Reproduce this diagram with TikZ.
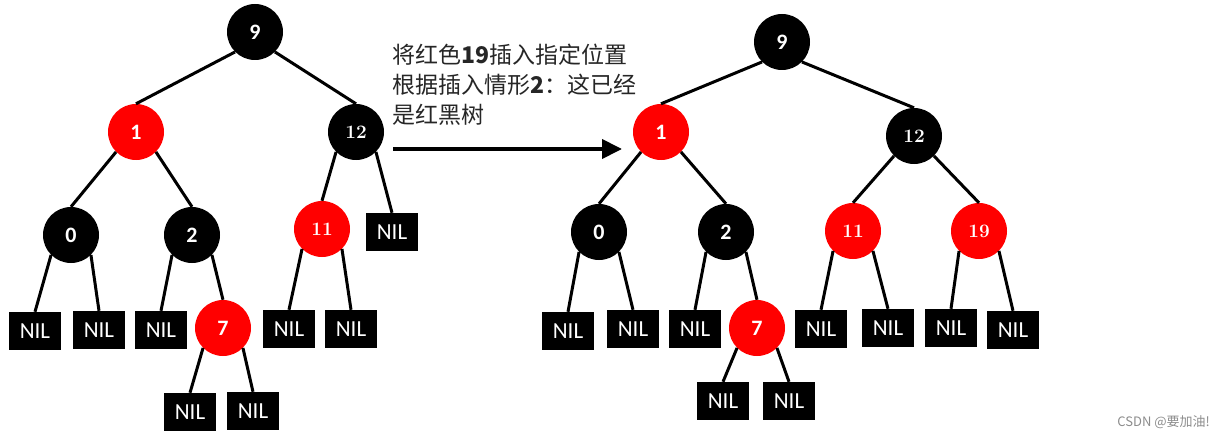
\documentclass[tikz,border=0pt]{standalone}
\usepackage{fontspec}
\setsansfont{Carlito}
\newfontfamily\cjkfont{Noto Sans CJK SC}
\usetikzlibrary{arrows.meta}

\begin{document}
\begin{tikzpicture}[x=1pt,y=-1pt,
	hei/.style={circle, fill=black, minimum size=56pt, inner sep=0pt, text=white, font=\sffamily\bfseries\fontsize{22}{22}\selectfont},
	hong/.style={hei, fill=red},
	shuzi/.style={font=\rmfamily\bfseries\fontsize{19}{19}\selectfont},
	nil/.style={fill=black, minimum width=52pt, minimum height=38pt, inner sep=0pt, text=white, font=\sffamily\fontsize{23}{23}\selectfont},
	bian/.style={line width=3pt}]
	
	\useasboundingbox (0,0) rectangle (1218,441);
	
	% Arbol antes
	\draw (255,32) node[hei] (a9) {9};
	\draw (136,132) node[hong] (a1) {1};
	\draw (356,132) node[hei, shuzi] (a12) {12};
	\draw (71,235) node[hei] (a0) {0};
	\draw (192,235) node[hei] (a2) {2};
	\draw (322,229) node[hong, shuzi] (a11) {11};
	\draw (392,232) node[nil] (anil12) {NIL};
	\draw (223,328) node[hong] (a7) {7};
	
	\draw (35,331) node[nil] (anil0l) {NIL};
	\draw (99,330) node[nil] (anil0r) {NIL};
	\draw (161,330) node[nil] (anil2) {NIL};
	\draw (289,329) node[nil] (anil11l) {NIL};
	\draw (351,329) node[nil] (anil11r) {NIL};
	\draw (190,412) node[nil] (anil7l) {NIL};
	\draw (253,411) node[nil] (anil7r) {NIL};
	
	% Lineas
	\draw [bian] (a9.south west) -- (a1.north);
	\draw [bian] (a9.south east) -- (a12.north);
	\draw [bian] (a1.south west) -- (a0.north);
	\draw [bian] (a1.south east) -- (a2.north);
	\draw [bian] (a12.south west) -- (a11.north);
	\draw [bian] (a12.south east) -- (anil12.north);
	\draw [bian] (a0.south west) -- (anil0l.north);
	\draw [bian] (a0.south east) -- (anil0r.north);
	\draw [bian] (a2.south west) -- (anil2.north);
	\draw [bian] (a2.south east) -- (a7.north);
	\draw [bian] (a11.south west) -- (anil11l.north);
	\draw [bian] (a11.south east) -- (anil11r.north);
	\draw [bian] (a7.south west) -- (anil7l.north);
	\draw [bian] (a7.south east) -- (anil7r.north);
	
	
	% Texto y flecha
	\draw (392,85) node[anchor=west, align=left, inner sep=0pt, text=black!85, font=\cjkfont\fontsize{23}{30}\selectfont] (shuoming)
	{
		将红色\textbf{19}插入指定位置 \\
		根据插入情形\textbf{2}：这已经 \\
		是红黑树
	};
	
	\coordinate (jt1) at (393,149);
	\coordinate (jt2) at (622,149);
	\draw [line width=4pt, -{Triangle[length=20pt, width=19pt]}] (jt1) -- (jt2);
	
	
	% Arbol despues
	\draw (782,42) node[hei] (b9) {9};
	\draw (661,132) node[hong] (b1) {1};
	\draw (914,136) node[hei, shuzi] (b12) {12};
	\draw (599,232) node[hei] (b0) {0};
	\draw (726,232) node[hei] (b2) {2};
	\draw (853,231) node[hong, shuzi] (b11) {11};
	\draw (979,231) node[hong, shuzi] (b19) {19};
	\draw (757,328) node[hong] (b7) {7};
	
	\draw (568,331) node[nil] (bnil0l) {NIL};
	\draw (633,329) node[nil] (bnil0r) {NIL};
	\draw (695,329) node[nil] (bnil2) {NIL};
	\draw (821,329) node[nil] (bnil11l) {NIL};
	\draw (888,328) node[nil] (bnil11r) {NIL};
	\draw (951,328) node[nil] (bnil19l) {NIL};
	\draw (1013,330) node[nil] (bnil19r) {NIL};
	\draw (723,401) node[nil] (bnil7l) {NIL};
	\draw (789,401) node[nil] (bnil7r) {NIL};
	
	% Lineas
	\draw [bian] (b9.south west) -- (b1.north);
	\draw [bian] (b9.south east) -- (b12.north);
	\draw [bian] (b1.south west) -- (b0.north);
	\draw [bian] (b1.south east) -- (b2.north);
	\draw [bian] (b12.south west) -- (b11.north);
	\draw [bian] (b12.south east) -- (b19.north);
	\draw [bian] (b0.south west) -- (bnil0l.north);
	\draw [bian] (b0.south east) -- (bnil0r.north);
	\draw [bian] (b2.south west) -- (bnil2.north);
	\draw [bian] (b2.south east) -- (b7.north);
	\draw [bian] (b11.south west) -- (bnil11l.north);
	\draw [bian] (b11.south east) -- (bnil11r.north);
	\draw [bian] (b19.south west) -- (bnil19l.north);
	\draw [bian] (b19.south east) -- (bnil19r.north);
	\draw [bian] (b7.south west) -- (bnil7l.north);
	\draw [bian] (b7.south east) -- (bnil7r.north);
	
	
	% Marca
	\draw (1210,422) node[anchor=east, inner sep=0pt, text=black!45, font=\cjkfont\fontsize{13}{13}\selectfont] (marca) {CSDN @要加油!};
	
\end{tikzpicture}
\end{document}
